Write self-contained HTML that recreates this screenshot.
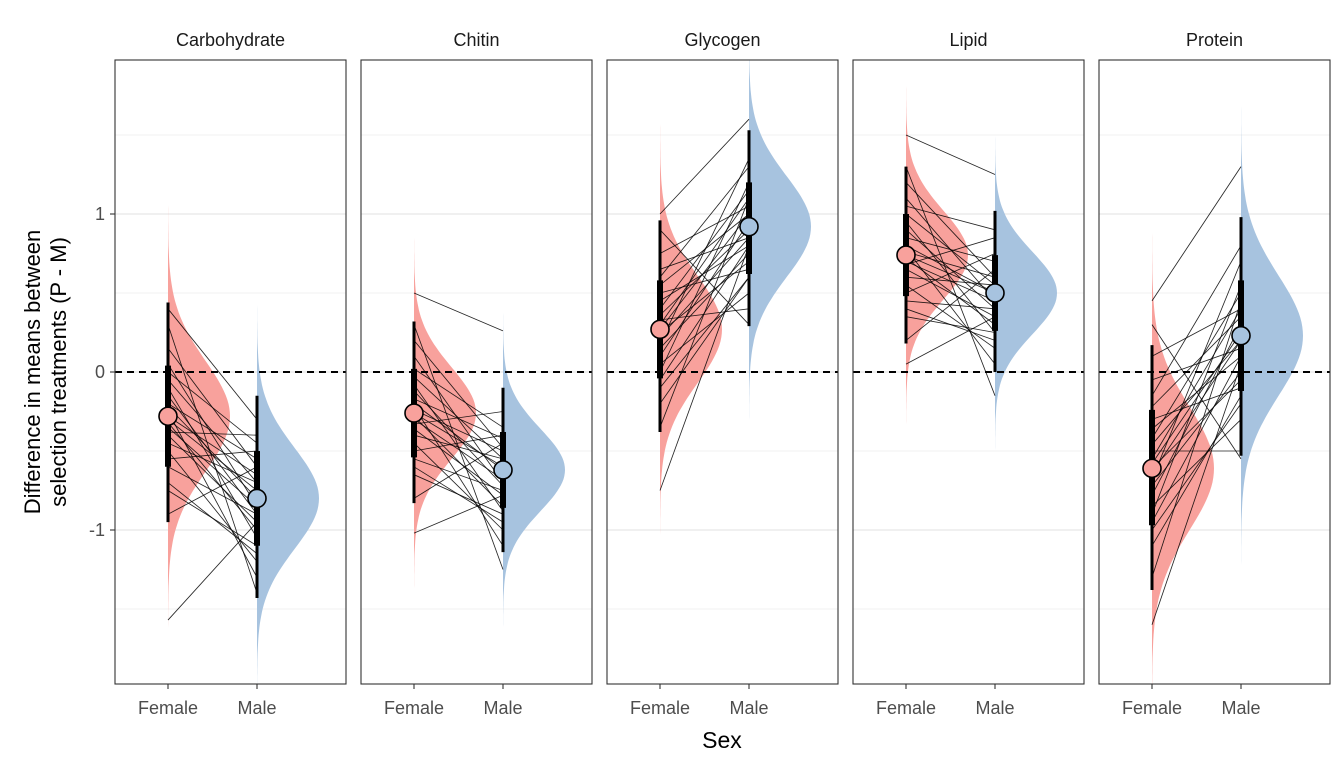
<!DOCTYPE html>
<html><head><meta charset="utf-8"><style>
body{margin:0;background:#fff;}
svg{display:block;font-family:"Liberation Sans",Arial,sans-serif;}
</style></head><body>
<svg id="chart" width="1344" height="768" viewBox="0 0 1344 768"></svg>
<script>
const panels=["Carbohydrate","Chitin","Glycogen","Lipid","Protein"];
const femaleMean=[-0.28,-0.26,0.27,0.74,-0.61];
const maleMean=[-0.80,-0.62,0.92,0.50,0.23];
const femaleSd=[0.35,0.29,0.34,0.28,0.39];
const maleSd=[0.32,0.26,0.32,0.26,0.38];
const female66=[[-0.6,0.04],[-0.54,0.02],[-0.04,0.58],[0.48,1.0],[-0.97,-0.24]];
const female95=[[-0.95,0.44],[-0.83,0.32],[-0.38,0.96],[0.18,1.3],[-1.38,0.17]];
const male66=[[-1.1,-0.5],[-0.86,-0.38],[0.62,1.2],[0.26,0.74],[-0.12,0.58]];
const male95=[[-1.43,-0.15],[-1.14,-0.1],[0.29,1.53],[0.0,1.02],[-0.53,0.98]];
const femaleDraws=[
[-0.9,-0.75,-0.6,-0.55,-0.5,-0.45,-0.4,-0.38,-0.35,-0.32,-0.3,-0.28,-0.25,-0.22,-0.2,-0.15,-0.1,-0.05,0,0.05,0.15,0.3,0.4,-1.57,-0.7],
[-0.8,-0.65,-0.55,-0.5,-0.45,-0.4,-0.36,-0.33,-0.3,-0.28,-0.26,-0.24,-0.22,-0.2,-0.17,-0.12,-0.08,-0.03,0.02,0.1,0.2,0.3,0.5,-1.02,-0.6],
[-0.35,-0.2,-0.05,0,0.05,0.1,0.15,0.18,0.22,0.25,0.27,0.3,0.33,0.36,0.4,0.45,0.5,0.55,0.6,0.65,0.75,0.9,1.0,-0.75,-0.1],
[0.2,0.35,0.45,0.5,0.55,0.6,0.65,0.68,0.7,0.72,0.74,0.76,0.78,0.8,0.85,0.9,0.95,1.0,1.05,1.1,1.2,1.3,1.5,0.05,0.4],
[-1.3,-1.1,-0.95,-0.9,-0.85,-0.78,-0.72,-0.68,-0.64,-0.61,-0.58,-0.55,-0.5,-0.46,-0.42,-0.36,-0.3,-0.22,-0.15,-0.05,0.1,0.3,0.45,-1.6,-1.0]];
const maleDraws=[
[-0.6,-1.1,-0.9,-0.5,-1.2,-0.7,-0.95,-0.4,-0.85,-1.0,-0.75,-0.65,-1.3,-0.8,-0.55,-0.9,-1.05,-0.7,-0.45,-0.85,-0.6,-1.4,-0.3,-0.95,-1.15],
[-0.45,-0.9,-0.75,-0.4,-1.0,-0.55,-0.78,-0.25,-0.68,-0.85,-0.6,-0.5,-1.1,-0.62,-0.42,-0.72,-0.88,-0.55,-0.35,-0.7,-0.48,-1.25,0.26,-0.78,-0.95],
[1.1,0.6,0.8,1.2,0.5,0.95,0.75,1.35,0.85,0.7,1.0,1.1,0.4,0.9,1.15,0.8,0.65,1.0,1.3,0.85,1.05,0.3,1.6,0.8,0.6],
[0.65,0.25,0.4,0.75,0.15,0.55,0.35,0.85,0.45,0.3,0.5,0.6,0.05,0.5,0.7,0.4,0.25,0.55,0.9,0.45,0.6,-0.15,1.25,0.35,0.2],
[0.45,-0.15,0.1,0.55,-0.3,0.3,0.0,0.7,0.2,-0.05,0.25,0.4,-0.5,0.2,0.5,0.1,-0.1,0.35,0.8,0.15,0.4,-0.55,1.3,0.05,-0.2]];
const yTicks=[-1,0,1];
const yMinor=[-1.5,-0.5,0.5,1.5];
const xLabels=["Female","Male"];

const NS="http://www.w3.org/2000/svg";
const svg=document.getElementById('chart');
const PW=231,PT=60,PB=684,P0=115,GAP=246;
const y=v=>372-158*v;
const px=i=>P0+GAP*i;
const xPos=(i,s)=>px(i)+(s===0?53:142);
function el(tag,attrs,parent,text){const e=document.createElementNS(NS,tag);for(const k in attrs)e.setAttribute(k,attrs[k]);if(text!==undefined)e.textContent=text;(parent||svg).appendChild(e);return e;}

panels.forEach((name,i)=>{
  const g=el('g',{});
  
  
  const cid='clip'+i;
  const cp=el('clipPath',{id:cid},g);el('rect',{x:px(i),y:PT,width:PW,height:PB-PT},cp);
  el('rect',{x:px(i),y:PT,width:PW,height:PB-PT,fill:'#fff'},g);
  yMinor.forEach(v=>el('line',{x1:px(i),x2:px(i)+PW,y1:y(v),y2:y(v),stroke:'#ebebeb','stroke-width':0.8},g));
  yTicks.forEach(v=>el('line',{x1:px(i),x2:px(i)+PW,y1:y(v),y2:y(v),stroke:'#ebebeb','stroke-width':1.6},g));
  const inner=el('g',{'clip-path':'url(#'+cid+')'},g);
  [[femaleMean,femaleSd,0,'#f8a19c'],[maleMean,maleSd,1,'#a7c3df']].forEach(([m,s,sx,col])=>{
    const mu=m[i],sd=s[i],x0=xPos(i,sx);let d='M'+x0+','+y(mu+4.5*sd);
    for(let k=0;k<=120;k++){const v=mu+4.5*sd-9*sd*k/120;const z=(v-mu)/sd;d+=' L'+(x0+62*Math.exp(-z*z/2)).toFixed(1)+','+y(v).toFixed(1);}
    d+=' L'+x0+','+y(mu-4.5*sd)+'Z';
    const p=el('path',{d:d,fill:col},inner);
    
    
  });
  femaleDraws[i].forEach((f,k)=>{
    const l=el('line',{x1:xPos(i,0),y1:y(f),x2:xPos(i,1),y2:y(maleDraws[i][k]),stroke:'#000','stroke-width':0.85,'stroke-opacity':0.85},inner);
    
    
  });
  el('line',{x1:px(i),x2:px(i)+PW,y1:y(0),y2:y(0),stroke:'#000','stroke-width':2,'stroke-dasharray':'7,5'},g);
  [[female95,female66,femaleMean,0,'#f8a19c'],[male95,male66,maleMean,1,'#a7c3df']].forEach(([a95,a66,m,sx,col])=>{
    const x=xPos(i,sx);
    el('line',{x1:x,x2:x,y1:y(a95[i][0]),y2:y(a95[i][1]),stroke:'#000','stroke-width':3},g);
    el('line',{x1:x,x2:x,y1:y(a66[i][0]),y2:y(a66[i][1]),stroke:'#000','stroke-width':6},g);
    const c=el('circle',{cx:x,cy:y(m[i]),r:9,fill:col,stroke:'#000','stroke-width':1.6},g);
    
    
  });
  el('rect',{x:px(i),y:PT,width:PW,height:PB-PT,fill:'none',stroke:'#333','stroke-width':1.1},g);
  const t=el('text',{x:px(i)+PW/2,y:46,'text-anchor':'middle','font-size':18,fill:'#1a1a1a'},g,name);
  
  
  xLabels.forEach((lab,s)=>{
    el('line',{x1:xPos(i,s),x2:xPos(i,s),y1:PB,y2:PB+5,stroke:'#333','stroke-width':1.1},g);
    const tl=el('text',{x:xPos(i,s),y:714,'text-anchor':'middle','font-size':18,fill:'#4d4d4d'},g,lab);
    
    
  });
});
yTicks.forEach(v=>{
  el('line',{x1:110,x2:115,y1:y(v),y2:y(v),stroke:'#333','stroke-width':1.1});
  const t=el('text',{x:105,y:y(v)+6,'text-anchor':'end','font-size':18,fill:'#4d4d4d'},svg,String(v));
  
  
});
const yt=el('text',{transform:'translate(0,372) rotate(-90)','text-anchor':'middle','font-size':22,fill:'#000'});


el('tspan',{x:0,y:40},yt,'Difference in means between');
el('tspan',{x:0,y:66},yt,'selection treatments (P - M)');
const xt=el('text',{x:722,y:748,'text-anchor':'middle','font-size':23,fill:'#000'},svg,'Sex');


</script>
</body></html>
